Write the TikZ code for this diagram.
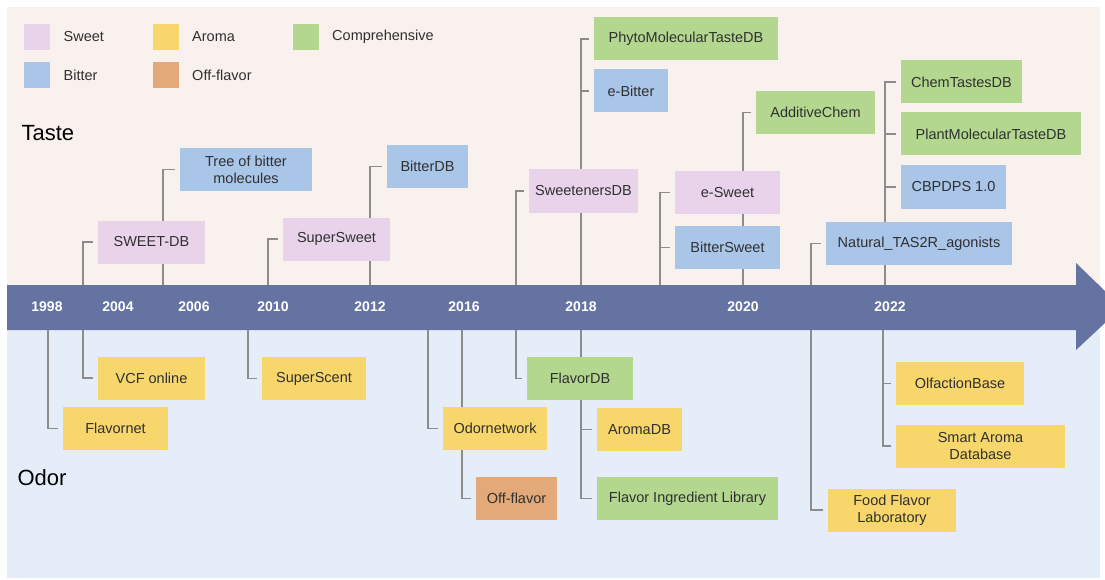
\documentclass[tikz,border=0pt]{standalone}
\usepackage{fontspec}
\setmainfont{Liberation Sans}
\usetikzlibrary{positioning,backgrounds}
\definecolor{sweetcol}{HTML}{E9D3EA}
\definecolor{bittercol}{HTML}{A9C5E8}
\definecolor{aromacol}{HTML}{F7D66B}
\definecolor{compcol}{HTML}{B3D78F}
\definecolor{offcol}{HTML}{E3A978}
\definecolor{tastebg}{HTML}{F9F1ED}
\definecolor{odorbg}{HTML}{E4EDF8}
\definecolor{bandcol}{HTML}{6573A3}
\definecolor{stemcol}{HTML}{8C8C8C}
\definecolor{inkcol}{HTML}{303030}
\tikzset{
  dbbox/.style={inner sep=0pt, minimum height=43pt, align=center, text=inkcol,
    font=\fontsize{14.5}{17}\selectfont},
  sweetbox/.style={dbbox, fill=sweetcol},
  bitterbox/.style={dbbox, fill=bittercol},
  aromabox/.style={dbbox, fill=aromacol},
  compbox/.style={dbbox, fill=compcol},
  offbox/.style={dbbox, fill=offcol},
  stemline/.style={draw=stemcol, line width=1.8pt},
  yearlabel/.style={text=white, font=\fontsize{14}{16}\selectfont\bfseries},
  keybox/.style={minimum size=26pt, inner sep=0pt},
  keytext/.style={anchor=west, text=inkcol, font=\fontsize{14.5}{17}\selectfont},
  sidelabel/.style={anchor=west, text=black, font=\fontsize{22}{24}\selectfont}
}

\begin{document}
\begin{tikzpicture}[x=1pt,y=-1pt]
\useasboundingbox (0,0) rectangle (1105,580);
\begin{pgfonlayer}{background}
\fill[tastebg] (7,7) rectangle (1100,285);
\fill[odorbg] (7,330) rectangle (1100,578);
\fill[bandcol] (7,285) -- (1076,285) -- (1076,263) -- (1105,291)
  -- (1105,323) -- (1076,350) -- (1076,330) -- (7,330) -- cycle;
\end{pgfonlayer}

% legend
\node[keybox, fill=sweetcol] (ksweet) at (37,37) {};
\node[keytext, right=10pt of ksweet] {Sweet};
\node[keybox, fill=bittercol] (kbitter) at (37,75) {};
\node[keytext, right=10pt of kbitter] {Bitter};
\node[keybox, fill=aromacol] (karoma) at (165.5,37) {};
\node[keytext, right=10pt of karoma] {Aroma};
\node[keybox, fill=offcol] (koff) at (165.5,75) {};
\node[keytext, right=10pt of koff] {Off-flavor};
\node[keybox, fill=compcol] (kcomp) at (305.5,37) {};
\node[keytext, right=10pt of kcomp] {Comprehensive};

\node[sidelabel] (taste) at (18,133) {Taste};
\node[sidelabel] (odor) at (14,478) {Odor};

% years
\node[yearlabel] (y1998) at (47,307) {1998};
\node[yearlabel] (y2004) at (118,307) {2004};
\node[yearlabel] (y2006) at (194,307) {2006};
\node[yearlabel] (y2010) at (273,307) {2010};
\node[yearlabel] (y2012) at (370,307) {2012};
\node[yearlabel] (y2016) at (464,307) {2016};
\node[yearlabel] (y2018) at (581,307) {2018};
\node[yearlabel] (y2020) at (743,307) {2020};
\node[yearlabel] (y2022) at (890,307) {2022};

% taste databases
\node[bitterbox, minimum width=132pt] (tree) at (246,169.5) {Tree of bitter\\molecules};
\node[sweetbox, minimum width=107pt] (sweetdb) at (151.5,242) {SWEET-DB};
\node[sweetbox, minimum width=107pt] (supersweet) at (336.5,239) {SuperSweet};
\node[bitterbox, minimum width=81pt] (bitterdb) at (427.5,166.5) {BitterDB};
\node[sweetbox, minimum width=109pt] (sweetenersdb) at (583.5,191) {SweetenersDB};
\node[compbox, minimum width=184pt] (phyto) at (686,39) {PhytoMolecularTasteDB};
\node[bitterbox, minimum width=74pt] (ebitter) at (631,91) {e-Bitter};
\node[sweetbox, minimum width=105pt] (esweet) at (727.5,192.5) {e-Sweet};
\node[bitterbox, minimum width=105pt] (bittersweet) at (727.5,247.5) {BitterSweet};
\node[compbox, minimum width=119pt] (additive) at (815.5,112.5) {AdditiveChem};
\node[bitterbox, minimum width=186pt] (tasr) at (919,243.5) {Natural\_TAS2R\_agonists};
\node[compbox, minimum width=121pt] (chemtastes) at (961.5,82) {ChemTastesDB};
\node[compbox, minimum width=180pt] (plantmol) at (991,134) {PlantMolecularTasteDB};
\node[bitterbox, minimum width=105pt] (cbpdps) at (953.5,187) {CBPDPS 1.0};

% odor databases
\node[aromabox, minimum width=105pt] (flavornet) at (115.5,428.5) {Flavornet};
\node[aromabox, minimum width=107pt] (vcf) at (151.5,378) {VCF online};
\node[aromabox, minimum width=104pt] (superscent) at (314,378.5) {SuperScent};
\node[aromabox, minimum width=104pt] (odornet) at (495,428.5) {Odornetwork};
\node[offbox, minimum width=81pt] (offflavor) at (516.5,498.5) {Off-flavor};
\node[compbox, minimum width=106pt] (flavordb) at (580,378.5) {FlavorDB};
\node[aromabox, minimum width=85pt] (aromadb) at (639.5,429.5) {AromaDB};
\node[compbox, minimum width=181pt] (fil) at (687.5,498.5) {Flavor Ingredient Library};
\node[aromabox, minimum width=128pt] (ffl) at (892,510) {Food Flavor\\Laboratory};
\node[aromabox, minimum width=128pt] (olfaction) at (960,383.5) {OlfactionBase};
\node[aromabox, minimum width=169pt] (smartaroma) at (980.5,446) {Smart Aroma\\Database};

% stems
\foreach \n/\x in {a/83, b/163, c/268, d/370, e/516, f/581, g/660, h/743, i/811, j/885}
  \coordinate (up\n) at (\x,285);
\foreach \n/\x in {a/48, b/83, c/248, d/428, e/462, f/516, g/581, h/811, i/883}
  \coordinate (dn\n) at (\x,330);

\begin{pgfonlayer}{background}
\draw[stemline] (upa) |- ([xshift=-5pt]sweetdb.west);
\draw[stemline] (upb) |- ([xshift=-5pt]tree.west);
\draw[stemline] (upc) |- ([xshift=-5pt]supersweet.west);
\draw[stemline] (upd) |- ([xshift=-5pt]bitterdb.west);
\draw[stemline] (upe) |- ([xshift=-5pt]sweetenersdb.west);
\draw[stemline] (upf) |- ([xshift=-5pt]phyto.west);
\draw[stemline] (upf |- ebitter.west) -- ([xshift=-5pt]ebitter.west);
\draw[stemline] (upg) |- ([xshift=-5pt]esweet.west);
\draw[stemline] (upg |- bittersweet.west) -- ([xshift=-5pt]bittersweet.west);
\draw[stemline] (uph) |- ([xshift=-5pt]additive.west);
\draw[stemline] (upi) |- ([xshift=-5pt]tasr.west);
\draw[stemline] (upj) |- ([xshift=-5pt]chemtastes.west);
\draw[stemline] (upj |- plantmol.west) -- ([xshift=-5pt]plantmol.west);
\draw[stemline] (upj |- cbpdps.west) -- ([xshift=-5pt]cbpdps.west);

\draw[stemline] (dna) |- ([xshift=-5pt]flavornet.west);
\draw[stemline] (dnb) |- ([xshift=-5pt]vcf.west);
\draw[stemline] (dnc) |- ([xshift=-5pt]superscent.west);
\draw[stemline] (dnd) |- ([xshift=-5pt]odornet.west);
\draw[stemline] (dne) |- ([xshift=-5pt]offflavor.west);
\draw[stemline] (dnf) |- ([xshift=-5pt]flavordb.west);
\draw[stemline] (dng) |- ([xshift=-5pt]fil.west);
\draw[stemline] (dng |- aromadb.west) -- ([xshift=-5pt]aromadb.west);
\draw[stemline] (dnh) |- ([xshift=-5pt]ffl.west);
\draw[stemline] (dni) |- ([xshift=-5pt]smartaroma.west);
\draw[stemline] (dni |- olfaction.west) -- ([xshift=-5pt]olfaction.west);
\end{pgfonlayer}
\end{tikzpicture}
\end{document}
